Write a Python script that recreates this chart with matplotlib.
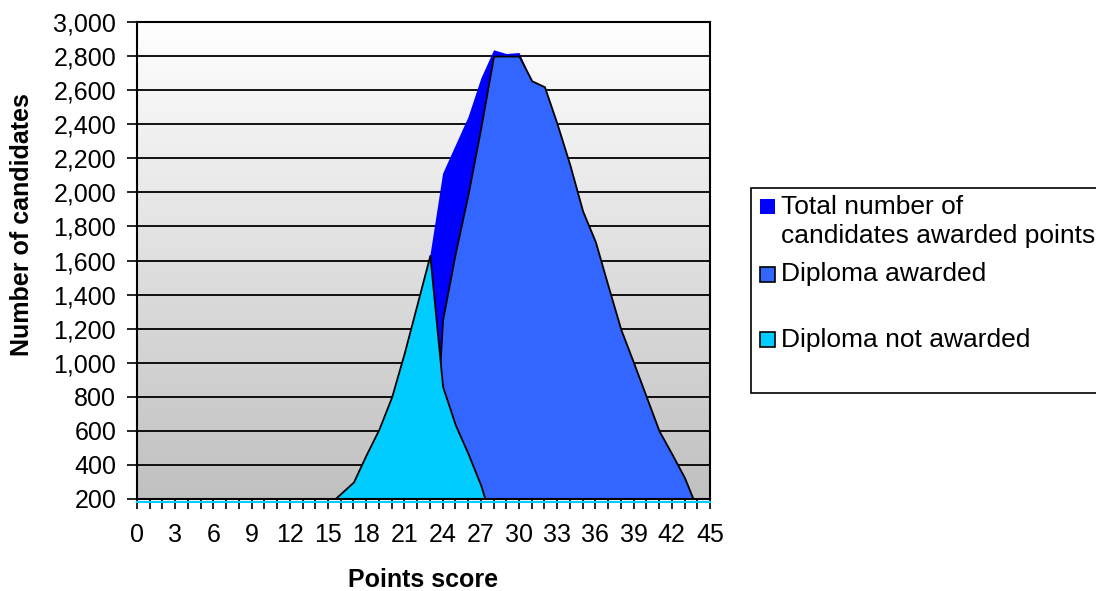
import numpy as np
import matplotlib.pyplot as plt
from matplotlib.colors import LinearSegmentedColormap
from matplotlib.patches import Rectangle
from matplotlib.transforms import offset_copy

plt.rcParams['font.family'] = ['Liberation Sans', 'DejaVu Sans']

points = list(range(46))

# values (anything under 200 is hidden by the axis floor)
not_awarded = [2, 1, 3, 5, 8, 12, 15, 20, 28, 35, 45, 60, 80, 100, 125, 165,
               232, 300, 460, 610, 800, 1060, 1345, 1630, 860, 635, 466, 280,
               35, 15, 21, 0, 0, 0, 0, 0, 0, 0, 0, 0, 0, 0, 0, 0, 0, 0]
awarded = [0] * 24 + [1253, 1644, 1990, 2380, 2800, 2800, 2800, 2655, 2620,
                      2400, 2160, 1890, 1710, 1450, 1195, 1000, 800, 600, 465,
                      325, 140, 30]
total = [2, 1, 3, 5, 8, 12, 15, 20, 28, 35, 45, 60, 80, 100, 125, 165,
         232, 300, 460, 610, 800, 1060, 1345, 1630, 2113, 2279, 2445, 2671,
         2837, 2815, 2821, 2655, 2620, 2400, 2160, 1890, 1710, 1450, 1195,
         1000, 800, 600, 465, 325, 140, 30]

y_ticks = list(range(200, 3001, 200))
x_labels = list(range(0, 46, 3))

c_total = '#0000FF'
c_awarded = '#3366FF'
c_not = '#00CCFF'

W, H = 1096, 591


def fx(px):
    return px / W


def fy(py):
    return 1 - py / H


fig = plt.figure(figsize=(W / 100, H / 100), dpi=100)
ax = fig.add_axes([fx(137), fy(499), fx(710) - fx(137), fy(22) - fy(499)])

# gray-to-white background
grad = LinearSegmentedColormap.from_list('bg', ['#C0C0C0', '#FFFFFF'])
ax.imshow(np.linspace(0, 1, 256).reshape(-1, 1), cmap=grad, origin='lower',
          extent=[0, 1, 0, 1], transform=ax.transAxes, aspect='auto', zorder=0)

ax.fill_between(points, 0, total, color=c_total, lw=0, zorder=1)
ax.fill_between(points, 0, awarded, facecolor=c_awarded, edgecolor='black',
                lw=1.3, zorder=1.1)
ax.fill_between(points, 0, not_awarded, facecolor=c_not, edgecolor='black',
                lw=1.3, zorder=1.2)

ax.set_xlim(0, 45)
ax.set_ylim(200, 3000)

# thin cyan strip just under the bottom axis
shifted = offset_copy(ax.get_yaxis_transform(), fig=fig, y=-2.5, units='dots')
ax.plot([0, 1], [200, 200], color=c_not, lw=1.5, transform=shifted,
        zorder=2.4, clip_on=False)

ax.set_axisbelow(True)
ax.yaxis.grid(True, color='black', lw=1.3)
ax.set_yticks(y_ticks)
ax.set_yticklabels([f'{v:,}' for v in y_ticks])
ax.set_xticks(points, minor=True)
ax.set_xticks(x_labels)
ax.tick_params(axis='y', length=7, width=1.2, pad=8, labelsize=18)
ax.tick_params(axis='x', which='both', length=7, width=1.2, pad=10,
               labelsize=18)
ax.tick_params(axis='x', which='minor', labelbottom=False)
for s in ax.spines.values():
    s.set_linewidth(1.5)
    s.set_color('black')

fig.text(fx(22), fy(225), 'Number of candidates', rotation=90, ha='center',
         va='center', fontsize=18, fontweight='bold')
fig.text(fx(423), fy(580), 'Points score', ha='center', va='center',
         fontsize=18, fontweight='bold')

# legend box (runs off the right edge like the original)
fig.add_artist(Rectangle((fx(751), fy(393)), fx(1110) - fx(751),
                         fy(188) - fy(393), transform=fig.transFigure,
                         facecolor='white', edgecolor='black', lw=1.2))
entries = [(c_total, 'none', 214.5, ['Total number of', 'candidates awarded points']),
           (c_awarded, 'black', 281.5, ['Diploma awarded']),
           (c_not, 'black', 347, ['Diploma not awarded'])]
for color, edge, base, lines in entries:
    fig.add_artist(Rectangle((fx(760), fy(base)), fx(775) - fx(760),
                             fy(base - 15) - fy(base), transform=fig.transFigure,
                             facecolor=color, edgecolor=edge, lw=1.2))
    for i, line in enumerate(lines):
        fig.text(fx(781), fy(base + 28.5 * i), line, ha='left',
                 va='baseline', fontsize=19)

fig.savefig('out.png', dpi=100)
